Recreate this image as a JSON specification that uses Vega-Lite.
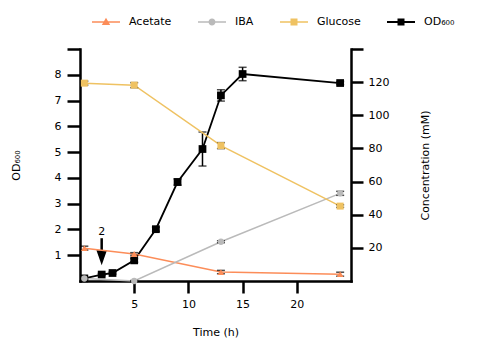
{
  "$schema": "https://vega.github.io/schema/vega-lite/v6.json",
  "width": 271,
  "height": 232,
  "autosize": {"type": "none"},
  "padding": {"left": 80, "top": 49, "right": 129, "bottom": 68},
  "config": {
    "font": "DejaVu Sans",
    "view": {"stroke": null},
    "axis": {
      "domainColor": "black", "domainWidth": 2.5, "domainCap": "square",
      "tickColor": "black", "tickWidth": 2.5, "tickSize": 12,
      "labelColor": "black", "labelFontSize": 11, "labelPadding": 5,
      "titleColor": "black", "titleFontSize": 11, "titleFontWeight": "normal",
      "grid": false
    }
  },
  "datasets": {
    "od": [
      {"time": 0.4, "value": 0.1, "err": 0.02},
      {"time": 2, "value": 0.25, "err": 0.04},
      {"time": 3, "value": 0.31, "err": 0.04},
      {"time": 5, "value": 0.8, "err": 0.07},
      {"time": 7, "value": 2.01, "err": 0.08},
      {"time": 9, "value": 3.84, "err": 0.12},
      {"time": 11.3, "value": 5.12, "err": 0.66},
      {"time": 13, "value": 7.2, "err": 0.22},
      {"time": 15, "value": 8.03, "err": 0.26},
      {"time": 24, "value": 7.68, "err": 0.06}
    ],
    "conc": [
      {"series": "Acetate", "time": 0.4, "value": 19.8, "err": 1.2},
      {"series": "Acetate", "time": 5, "value": 16.3, "err": 0.8},
      {"series": "Acetate", "time": 13, "value": 5.4, "err": 1.0},
      {"series": "Acetate", "time": 24, "value": 4.1, "err": 1.2},
      {"series": "IBA", "time": 0.4, "value": 1.5, "err": 0.3},
      {"series": "IBA", "time": 5, "value": 0, "err": 0.3},
      {"series": "IBA", "time": 13, "value": 23.7, "err": 0.6},
      {"series": "IBA", "time": 24, "value": 52.9, "err": 1.2},
      {"series": "Glucose", "time": 0.4, "value": 119.4, "err": 1.2},
      {"series": "Glucose", "time": 5, "value": 118.2, "err": 1.5},
      {"series": "Glucose", "time": 13, "value": 81.7, "err": 1.8},
      {"series": "Glucose", "time": 24, "value": 45.2, "err": 0.8}
    ],
    "arrow": [
      {"kind": "shaft", "time": 2, "value": 1.66, "v2": 1.0},
      {"kind": "head", "time": 2, "value": 0.9},
      {"kind": "label", "time": 2, "value": 1.91, "label": "2"}
    ]
  },
  "layer": [
    {
      "data": {"name": "od"},
      "encoding": {
        "x": {"field": "time", "type": "quantitative",
              "scale": {"domain": [0, 25], "nice": false, "zero": false},
              "axis": {"values": [5, 10, 15, 20], "title": "Time (h)", "titlePadding": 17}},
        "y": {"field": "value", "type": "quantitative",
              "scale": {"domain": [0, 9], "nice": false},
              "axis": {"orient": "left", "values": [1, 2, 3, 4, 5, 6, 7, 8, 9],
                       "labelExpr": "datum.value == 9 ? '' : datum.label",
                       "tickSize": 13, "labelPadding": 6,
                       "title": "OD₆₀₀", "titlePadding": 33}}
      },
      "layer": [
        {"mark": {"type": "line", "color": "black", "strokeWidth": 1.8}},
        {"mark": {"type": "errorbar", "ticks": true, "size": 8, "thickness": 1.5, "color": "black"},
         "encoding": {"yError": {"field": "err"}}},
        {"mark": {"type": "point", "shape": "square", "filled": true, "size": 60, "color": "black", "opacity": 1}},
        {"data": {"name": "arrow"}, "transform": [{"filter": "datum.kind == 'shaft'"}],
         "mark": {"type": "rule", "color": "black", "strokeWidth": 2.5},
         "encoding": {"y2": {"field": "v2"}}},
        {"data": {"name": "arrow"}, "transform": [{"filter": "datum.kind == 'head'"}],
         "mark": {"type": "point", "shape": "M-0.7,-1L0.7,-1L0,1Z", "size": 225, "filled": true, "color": "black", "opacity": 1}},
        {"data": {"name": "arrow"}, "transform": [{"filter": "datum.kind == 'label'"}],
         "mark": {"type": "text", "fontSize": 11, "color": "black", "align": "center", "baseline": "middle"},
         "encoding": {"text": {"field": "label"}}}
      ]
    },
    {
      "data": {"name": "conc"},
      "encoding": {
        "x": {"field": "time", "type": "quantitative",
              "scale": {"domain": [0, 25], "nice": false, "zero": false},
              "axis": {"values": [5, 10, 15, 20], "title": "Time (h)", "titlePadding": 17}},
        "y": {"field": "value", "type": "quantitative",
              "scale": {"domain": [0, 140], "nice": false},
              "axis": {"orient": "right", "values": [20, 40, 60, 80, 100, 120, 140],
                       "labelExpr": "datum.value == 140 ? '' : datum.label",
                       "title": "Concentration (mM)", "titleAngle": 270, "titleBaseline": "top", "titlePadding": 31}}
      },
      "layer": [
        {"transform": [{"filter": "datum.time < -100"}],
         "mark": {"type": "point", "filled": true, "opacity": 1},
         "encoding": {
           "color": {"field": "series", "type": "nominal",
                     "scale": {"domain": ["Acetate", "IBA", "Glucose", "OD₆₀₀"], "range": ["#fc8d59", "#bababa", "#efc262", "#000000"]},
                     "legend": {"orient": "none", "legendX": 12, "legendY": -41, "direction": "horizontal", "title": null,
                                "symbolSize": 784, "symbolStrokeWidth": 0, "symbolOpacity": 1, "labelFontSize": 11,
                                "labelColor": "black", "labelOffset": 9, "columnPadding": 26}},
           "shape": {"field": "series", "type": "nominal",
                     "scale": {"domain": ["Acetate", "IBA", "Glucose", "OD₆₀₀"],
                               "range": ["M-1,-0.055H1V0.055H-1Z M0,-0.3L0.3,0.22H-0.3Z",
                                         "M-1,-0.055H1V0.055H-1Z M-0.25,0A0.25,0.25 0 1,1 0.25,0A0.25,0.25 0 1,1 -0.25,0Z",
                                         "M-1,-0.055H1V0.055H-1Z M-0.25,-0.25H0.25V0.25H-0.25Z",
                                         "M-1,-0.065H1V0.065H-1Z M-0.25,-0.25H0.25V0.25H-0.25Z"]},
                     "legend": {"orient": "none", "legendX": 12, "legendY": -41, "direction": "horizontal", "title": null,
                                "symbolSize": 784, "symbolStrokeWidth": 0, "symbolOpacity": 1, "labelFontSize": 11,
                                "labelColor": "black", "labelOffset": 9, "columnPadding": 26}}
         }},
        {"transform": [{"filter": "datum.series == 'Acetate'"}],
         "mark": {"type": "line", "strokeWidth": 1.5, "color": "#fc8d59"}},
        {"transform": [{"filter": "datum.series == 'IBA'"}],
         "mark": {"type": "line", "strokeWidth": 1.5, "color": "#bababa"}},
        {"transform": [{"filter": "datum.series == 'Glucose'"}],
         "mark": {"type": "line", "strokeWidth": 1.5, "color": "#efc262"}},
        {"mark": {"type": "errorbar", "ticks": true, "size": 8, "thickness": 1.5, "color": "black"},
         "encoding": {"yError": {"field": "err"}}},
        {"transform": [{"filter": "datum.series == 'Acetate'"}],
         "mark": {"type": "point", "shape": "triangle-up", "filled": true, "size": 45, "opacity": 1, "color": "#fc8d59"}},
        {"transform": [{"filter": "datum.series == 'IBA'"}],
         "mark": {"type": "point", "shape": "circle", "filled": true, "size": 40, "opacity": 1, "color": "#bababa"}},
        {"transform": [{"filter": "datum.series == 'Glucose'"}],
         "mark": {"type": "point", "shape": "square", "filled": true, "size": 49, "opacity": 1, "color": "#efc262"}}
      ]
    }
  ],
  "resolve": {"scale": {"y": "independent"}}
}
